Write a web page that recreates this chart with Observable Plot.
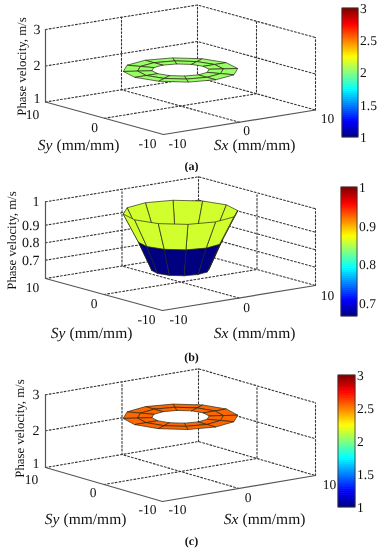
<!DOCTYPE html>
<html>
<head>
<meta charset="utf-8">
<style>
html,body{margin:0;padding:0;background:#fff}
svg{display:block;text-rendering:geometricPrecision;filter:blur(0.3px)}
</style>
<script src="https://cdn.jsdelivr.net/npm/d3@7"></script>
<script src="https://cdn.jsdelivr.net/npm/@observablehq/plot@0.6"></script>
</head>
<body>
<div id="chart"></div>
<script>
// ---- data ----
const slownessTicks = [-10, 0, 10];
const segmentAngles = [0, 30, 60, 90, 120, 150, 180, 210, 240, 270, 300, 330];

const ringRadiiA = [3, 4.5, 6];
const ringHeightsA = [2, 2, 2];
const bandValuesA = [2.05, 2.05];
const zTicksA = [1, 2, 3];
const zLabelsA = ["1", "2", "3"];
const barTicksA = [1, 1.5, 2, 2.5, 3];
const barLabelsA = ["1", "1.5", "2", "2.5", "3"];
const barRangeA = [1, 3];

const ringRadiiB = [3, 4.4, 6];
const ringHeightsB = [0.667, 0.83, 0.97];
const bandValuesB = [0.667, 0.86];
const zTicksB = [0.6, 0.7, 0.8, 0.9, 1];
const zLabelsB = ["", "0.7", "0.8", "0.9", "1"];
const barTicksB = [0.7, 0.8, 0.9, 1];
const barLabelsB = ["0.7", "0.8", "0.9", "1"];
const barRangeB = [0.667, 1];

const ringRadiiC = [3, 4.5, 6];
const ringHeightsC = [2.5, 2.5, 2.5];
const bandValuesC = [2.55, 2.55];
const zTicksC = [1, 2, 3];
const zLabelsC = ["1", "2", "3"];
const barTicksC = [1, 1.5, 2, 2.5, 3];
const barLabelsC = ["1", "1.5", "2", "2.5", "3"];
const barRangeC = [1, 3];

// ---- layout of each panel (page pixels) ----
const panels = [
  {top: 0, h: 172, caption: "(a)", captionY: 166,
   F: [163, 134], L: [45, 101.5], R: [315, 109.5], rise: [0, 36, 72.5],
   radii: ringRadiiA, heights: ringHeightsA, bands: bandValuesA,
   zTicks: zTicksA, zLabels: zLabelsA, zLabelX: 40, zLabelDy: [-3.5, 0, 0],
   barTicks: barTicksA, barLabels: barLabelsA, barRange: barRangeA,
   bar: [342, 358, 8, 137],
   sxOff: [[14, 9], [7, 8], [12, 8.5]], syOff: [[-16, 9], [-10, 9.5], [-13, 12.5]],
   syTitle: [76, 145], sxTitle: [252, 145], yTitle: [21, 66]},
  {top: 172, h: 192, caption: "(b)", captionY: 357,
   F: [162, 310], L: [45, 278], R: [315, 285], rise: [0, 18.3, 35.7, 53.3, 76.7],
   radii: ringRadiiB, heights: ringHeightsB, bands: bandValuesB,
   zTicks: zTicksB, zLabels: zLabelsB, zLabelX: 39, zLabelDy: [0, 0, 0, 0, 0],
   barTicks: barTicksB, barLabels: barLabelsB, barRange: barRangeB,
   bar: [341, 357, 187, 316],
   sxOff: [[16, 9], [7.5, 9.5], [12, 10]], syOff: [[-16, 9], [-10, 9], [-13, 9]],
   syTitle: [89, 333], sxTitle: [252, 333], yTitle: [11, 240]},
  {top: 364, h: 186, caption: "(c)", captionY: 541,
   F: [162, 501], L: [45, 467], R: [315, 475], rise: [0, 36.7, 72.7],
   radii: ringRadiiC, heights: ringHeightsC, bands: bandValuesC,
   zTicks: zTicksC, zLabels: zLabelsC, zLabelX: 39, zLabelDy: [-3.5, 0, 0],
   barTicks: barTicksC, barLabels: barLabelsC, barRange: barRangeC,
   bar: [338, 355, 375, 507],
   sxOff: [[15, 8], [9, 9], [14, 9]], syOff: [[-15, 8], [-11, 8], [-14, 12.5]],
   syTitle: [83, 519], sxTitle: [262, 519], yTitle: [19, 428]}
];

const serif = "'Liberation Serif','Times New Roman',serif";
function jet(t) {
  const c = (v) => Math.max(0, Math.min(1, v));
  const r = c(1.5 - Math.abs(4 * t - 3));
  const g = c(1.5 - Math.abs(4 * t - 2));
  const b = c(1.5 - Math.abs(4 * t - 1));
  return `rgb(${Math.round(r * 255)},${Math.round(g * 255)},${Math.round(b * 255)})`;
}

function drawPanel(p) {
  const ux = [(p.R[0] - p.F[0]) / 20, (p.R[1] - p.F[1]) / 20];
  const uy = [(p.L[0] - p.F[0]) / 20, (p.L[1] - p.F[1]) / 20];
  const cx = (p.L[0] + p.R[0]) / 2, cy = (p.L[1] + p.R[1]) / 2;
  const riseOf = d3.scaleLinear().domain(p.zTicks).range(p.rise);
  // affine 3-D view: (Sx, Sy, value) -> page position
  const view = (sx, sy, z) => [
    cx + sx * ux[0] + sy * uy[0],
    cy + sx * ux[1] + sy * uy[1] - riseOf(z)
  ];
  const zMin = p.zTicks[0], zMax = p.zTicks[p.zTicks.length - 1];

  // dotted grid
  const grid = [];
  const addLine = (id, pts) => pts.forEach(q => grid.push({id, x: q[0], y: q[1]}));
  p.zTicks.forEach((z, i) => addLine("z" + i, [view(-10, 10, z), view(10, 10, z), view(10, -10, z)]));
  addLine("sy0", [view(-10, 0, zMin), view(10, 0, zMin), view(10, 0, zMax)]);
  addLine("sx0", [view(0, -10, zMin), view(0, 10, zMin), view(0, 10, zMax)]);
  addLine("back", [view(10, 10, zMin), view(10, 10, zMax)]);
  addLine("right", [view(10, -10, zMin), view(10, -10, zMax)]);

  // solid axes
  const axes = [];
  const addAxis = (id, pts) => pts.forEach(q => axes.push({id, x: q[0], y: q[1]}));
  addAxis("floor", [view(-10, 10, zMin), view(-10, -10, zMin), view(10, -10, zMin)]);
  addAxis("z", [view(-10, 10, zMin), view(-10, 10, zMax)]);

  // surface quads, painted far to near
  const toRad = Math.PI / 180;
  const quads = [];
  for (let b = 0; b < p.radii.length - 1; b++) {
    segmentAngles.forEach((a, k) => {
      const a2 = segmentAngles[(k + 1) % segmentAngles.length];
      const corner = (r, z, ang) => {
        const sx = r * Math.cos(ang * toRad), sy = r * Math.sin(ang * toRad);
        return {sx, sy, pos: view(sx, sy, z)};
      };
      const cs = [
        corner(p.radii[b], p.heights[b], a),
        corner(p.radii[b + 1], p.heights[b + 1], a),
        corner(p.radii[b + 1], p.heights[b + 1], a2),
        corner(p.radii[b], p.heights[b], a2)
      ];
      const depth = d3.sum(cs, c => c.sx * (-ux[1]) + c.sy * (-uy[1]));
      quads.push({id: `${b}-${k}`, depth, value: p.bands[b], cs});
    });
  }
  quads.sort((a, b) => d3.descending(a.depth, b.depth));
  const surface = quads.flatMap(q =>
    [...q.cs, q.cs[0]].map(c => ({id: q.id, value: q.value, x: c.pos[0], y: c.pos[1]})));

  // colour bar
  const [bx1, bx2, by1, by2] = p.bar;
  const barY = d3.scaleLinear().domain(p.barRange).range([by2, by1]);
  const steps = 64;
  const barCells = d3.range(steps).map(i => {
    const v0 = p.barRange[0] + (p.barRange[1] - p.barRange[0]) * i / steps;
    const v1 = p.barRange[0] + (p.barRange[1] - p.barRange[0]) * (i + 1) / steps;
    return {v0, v1, mid: (v0 + v1) / 2};
  });
  const barTickData = p.barTicks.map((v, i) => ({v, label: p.barLabels[i]}));

  const zLabelData = p.zTicks.map((z, i) => ({z, label: p.zLabels[i], dy: p.zLabelDy[i]})).filter(d => d.label);
  const sxData = slownessTicks.map((s, i) => {
    const q = view(s, -10, zMin);
    return {label: String(s), x: q[0] + p.sxOff[i][0], y: q[1] + p.sxOff[i][1]};
  });
  const syData = slownessTicks.map((s, i) => {
    const q = view(-10, s, zMin);
    return {label: String(s), x: q[0] + p.syOff[i][0], y: q[1] + p.syOff[i][1]};
  });

  const txt = {fontFamily: serif, fill: "#111", stroke: "none"};

  return Plot.plot({
    width: 379,
    height: p.h,
    margin: 0,
    x: {domain: [0, 379], range: [0, 379], axis: null},
    y: {domain: [p.top, p.top + p.h], range: [0, p.h], axis: null},
    color: {type: "linear", domain: p.barRange, interpolate: jet, legend: false},
    style: {background: "#fff"},
    marks: [
      Plot.line(grid, {x: "x", y: "y", z: "id", stroke: "#333", strokeWidth: 1.1, strokeDasharray: "1.8,2"}),
      Plot.line(axes, {x: "x", y: "y", z: "id", stroke: "#555", strokeWidth: 1.2}),
      Plot.line(surface, {x: "x", y: "y", z: "id", fill: "value", stroke: "#2a2a1a", strokeWidth: 0.7}),
      Plot.text(zLabelData, {x: p.zLabelX, y: d => view(-10, 10, d.z)[1] + d.dy, text: "label", textAnchor: "end", fontSize: 14, ...txt}),
      Plot.text(sxData, {x: "x", y: "y", text: "label", fontSize: 13.5, ...txt}),
      Plot.text(syData, {x: "x", y: "y", text: "label", fontSize: 13.5, ...txt}),
      Plot.text(["Sy"], {x: p.syTitle[0] - 24, y: p.syTitle[1], text: d => d, textAnchor: "end", fontSize: 15.5, fontStyle: "italic", ...txt}),
      Plot.text(["(mm/mm)"], {x: p.syTitle[0] - 20, y: p.syTitle[1], text: d => d, textAnchor: "start", fontSize: 15.5, ...txt}),
      Plot.text(["Sx"], {x: p.sxTitle[0] - 24, y: p.sxTitle[1], text: d => d, textAnchor: "end", fontSize: 15.5, fontStyle: "italic", ...txt}),
      Plot.text(["(mm/mm)"], {x: p.sxTitle[0] - 20, y: p.sxTitle[1], text: d => d, textAnchor: "start", fontSize: 15.5, ...txt}),
      Plot.text(["Phase velocity, m/s"], {x: p.yTitle[0], y: p.yTitle[1], text: d => d, rotate: -90, fontSize: 12.8, ...txt}),
      Plot.rect(barCells, {x1: bx1, x2: bx2, y1: d => barY(d.v0), y2: d => barY(d.v1), fill: "mid", inset: -0.3}),
      Plot.rect([0], {x1: bx1, x2: bx2, y1: by1, y2: by2, fill: "none", stroke: "#333", strokeWidth: 0.8}),
      Plot.text(barTickData, {x: bx2 + 1.5, y: d => barY(d.v), text: "label", textAnchor: "start", fontSize: 13.5, ...txt}),
      Plot.text([p.caption], {x: 191, y: p.captionY, text: d => d, fontSize: 12, fontWeight: "bold", ...txt})
    ]
  });
}

const host = document.getElementById("chart");
panels.forEach(p => host.appendChild(drawPanel(p)));
</script>
</body>
</html>
